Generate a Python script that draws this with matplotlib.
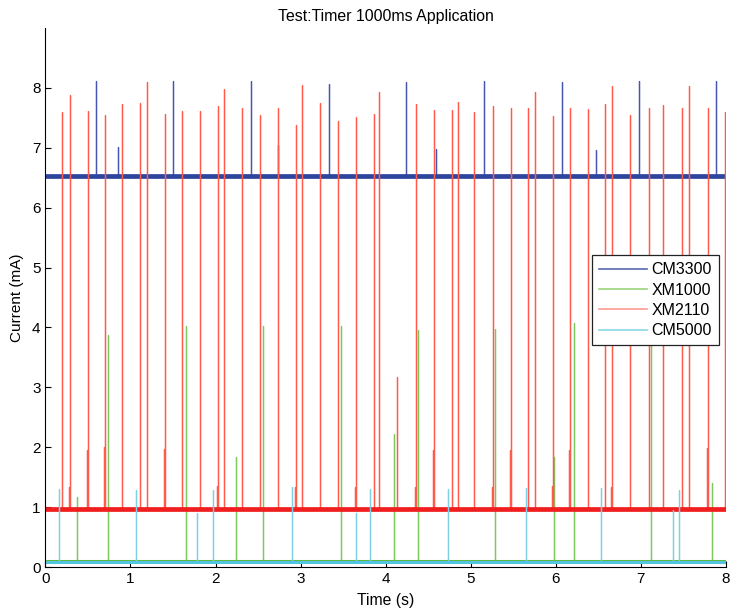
import numpy as np
import matplotlib
matplotlib.use("Agg")
import matplotlib.pyplot as plt

plt.rcParams["font.family"] = ["Liberation Sans", "DejaVu Sans"]

# baseline currents (mA)
CM3300_BASE = 6.52
XM1000_BASE = 0.10
XM2110_BASE = 0.97
CM5000_BASE = 0.08

# spike times (s) and peak currents (mA)
cm3300_t = [0.59, 0.853, 1.499, 2.417, 2.731, 3.334, 4.243, 4.593, 5.157,
            6.071, 6.474, 6.976, 7.889]
cm3300_y = [8.12, 7.02, 8.12, 8.12, 7.05, 8.06, 8.10, 6.98, 8.11,
            8.10, 6.96, 8.11, 8.11]

xm1000_t = [0.374, 0.739, 1.649, 2.237, 2.558, 3.472, 4.099, 4.381, 5.286,
            5.977, 6.212, 7.125, 7.838]
xm1000_y = [1.17, 3.87, 4.03, 1.83, 4.03, 4.02, 2.22, 3.96, 3.97,
            1.83, 4.08, 4.0, 1.40]

xm2110_t = [0.198, 0.276, 0.285, 0.49, 0.50, 0.688, 0.70, 0.90, 1.115, 1.190,
            1.194, 1.397, 1.405, 1.609, 1.817, 2.02, 2.029, 2.096, 2.103,
            2.311, 2.523, 2.734, 2.738, 2.934, 2.943, 3.013, 3.020, 3.225,
            3.440, 3.643, 3.652, 3.86, 3.867, 3.922, 4.137, 4.342, 4.354,
            4.557, 4.569, 4.777, 4.784, 4.848, 5.043, 5.251, 5.259, 5.463,
            5.475, 5.675, 5.753, 5.960, 5.965, 6.160, 6.165, 6.377, 6.382,
            6.580, 6.651, 6.663, 6.871, 6.878, 7.094, 7.266, 7.482, 7.565,
            7.571, 7.776, 7.788, 7.991]
xm2110_y = [7.59, 1.34, 7.88, 1.95, 7.62, 2.00, 7.55, 7.73, 7.75, 1.34,
            8.10, 1.97, 7.57, 7.61, 7.61, 1.35, 7.69, 1.97, 7.98,
            7.66, 7.55, 1.35, 7.67, 1.34, 7.38, 1.96, 8.05, 7.75,
            7.45, 1.34, 7.52, 1.95, 7.57, 7.93, 3.17, 1.34, 7.73,
            1.95, 7.63, 1.97, 7.63, 7.76, 7.59, 1.34, 7.69, 1.95,
            7.67, 7.67, 7.93, 1.35, 7.53, 1.95, 7.67, 1.98, 7.64,
            7.73, 1.34, 8.03, 1.97, 7.55, 7.66, 7.71, 7.67, 1.34,
            8.03, 1.98, 7.67, 7.60]

cm5000_t = [0.155, 1.068, 1.778, 1.974, 2.899, 3.652, 3.812, 4.730, 5.647,
            6.533, 7.376, 7.450]
cm5000_y = [1.30, 1.29, 0.90, 1.29, 1.34, 0.91, 1.30, 1.30, 1.32,
            1.32, 0.95, 1.29]

# name, times, peaks, baseline, baseline colour, spike colour, legend colour
series = [
    ("CM3300", cm3300_t, cm3300_y, CM3300_BASE, "#2e45a0", "#4456b0", "#5a68b0"),
    ("XM1000", xm1000_t, xm1000_y, XM1000_BASE, "#5cb83c", "#7cc85c", "#98d47c"),
    ("XM2110", xm2110_t, xm2110_y, XM2110_BASE, "#f01e1e", "#ff5a4a", "#ff9a94"),
    ("CM5000", cm5000_t, cm5000_y, CM5000_BASE, "#55c4de", "#7dd0e6", "#8ad6e8"),
]


def spike_trace(ts, ys, base):
    tt, yy = [0.0], [base]
    for t, y in zip(ts, ys):
        tt += [t, t, t]
        yy += [base, y, base]
    tt.append(8.0)
    yy.append(base)
    return tt, yy


fig = plt.figure(figsize=(7.3, 6.15), dpi=100)
ax = fig.add_axes([0.0623, 0.078, 0.9317, 0.8766])

handles = []
for name, ts, ys, base, bcol, scol, lcol in series:
    tt, yy = spike_trace(ts, ys, base)
    ax.plot(tt, yy, color=scol, lw=0.9)
    bw = 3.4 if base > 0.5 else 2.2
    ax.plot([0, 8], [base, base], color=bcol, lw=bw, solid_capstyle="butt")
    h, = ax.plot([], [], color=lcol, lw=1.2, label=name)
    handles.append(h)

ax.set_xlim(0, 8)
ax.set_ylim(0, 9)
ax.set_xticks(range(0, 9))
ax.set_yticks(range(0, 9))
ax.tick_params(direction="in", length=4, labelsize=11)
ax.spines["top"].set_visible(False)
ax.spines["right"].set_visible(False)

ax.set_title("Test:Timer 1000ms Application", fontsize=11.4, pad=5)
ax.set_xlabel("Time (s)", fontsize=11.3, labelpad=5)
ax.set_ylabel("Current (mA)", fontsize=11, labelpad=6)

leg = ax.legend(handles=handles, loc="upper right", bbox_to_anchor=(0.99, 0.578),
                borderaxespad=0, fontsize=11.5, fancybox=False, framealpha=1,
                edgecolor="#222222", handlelength=3.0, handletextpad=0.3,
                borderpad=0.42, labelspacing=0.34)
leg.get_frame().set_linewidth(0.9)

fig.savefig("out.png", dpi=100)
